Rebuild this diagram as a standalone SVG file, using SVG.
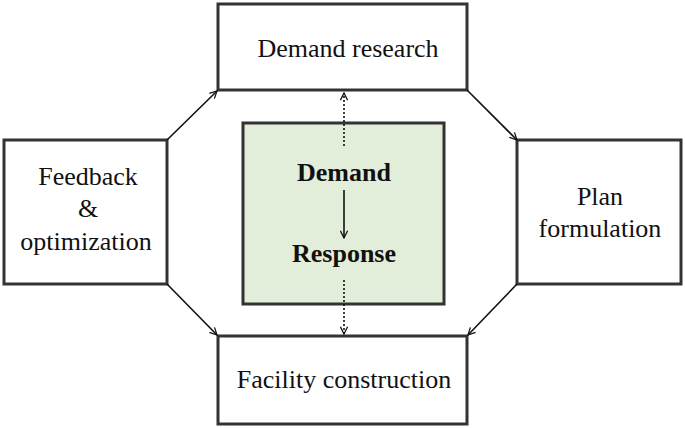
<svg xmlns="http://www.w3.org/2000/svg" width="685" height="428" viewBox="0 0 685 428">
<style>
.box{fill:#fff;stroke:#333;stroke-width:3}
.t{font-family:'Liberation Serif','Times New Roman','Noto Serif','DejaVu Serif',serif;font-size:26px;fill:#111;text-anchor:middle}
.b{font-weight:bold}
.c{stroke:#111;stroke-width:1.6;fill:none;marker-end:url(#ah)}
.d{stroke-dasharray:2,2}
</style>
<defs><marker id="ah" viewBox="0 0 10 10" refX="9" refY="5" markerWidth="9" markerHeight="9" orient="auto" markerUnits="userSpaceOnUse"><path d="M1,1 L9,5 L1,9" fill="none" stroke="#111" stroke-width="1.4"/></marker></defs>
<rect width="685" height="428" fill="#fff"/>
<g id="center"><rect x="243" y="123" width="201" height="181" fill="#e2eed9" stroke="#333" stroke-width="3"/>
<text class="t b" x="344" y="181">Demand</text><text class="t b" x="344" y="262">Response</text>
<line class="c" x1="344" y1="190" x2="344" y2="238"/></g>
<g id="research"><rect class="box" x="218" y="4" width="249" height="86"/><text class="t" x="348" y="57">Demand research</text></g>
<g id="plan"><rect class="box" x="517" y="140" width="164" height="144"/><text class="t" x="600" y="205">Plan</text><text class="t" x="600" y="237">formulation</text></g>
<g id="facility"><rect class="box" x="218" y="336" width="249" height="88"/><text class="t" x="344" y="388">Facility construction</text></g>
<g id="feedback"><rect class="box" x="4" y="140" width="163" height="144"/><text class="t" x="88" y="185">Feedback</text><text class="t" x="88" y="217">&amp;</text><text class="t" x="86" y="250">optimization</text></g>
<g id="connectors">
<line class="c" x1="167" y1="140" x2="217" y2="91"/>
<line class="c" x1="467" y1="90" x2="517" y2="140"/>
<line class="c" x1="517" y1="284" x2="468" y2="335"/>
<line class="c" x1="167" y1="284" x2="217" y2="335"/>
<line class="c d" x1="344" y1="146" x2="344" y2="93"/>
<line class="c d" x1="344" y1="280" x2="344" y2="334"/>
</g>
</svg>
